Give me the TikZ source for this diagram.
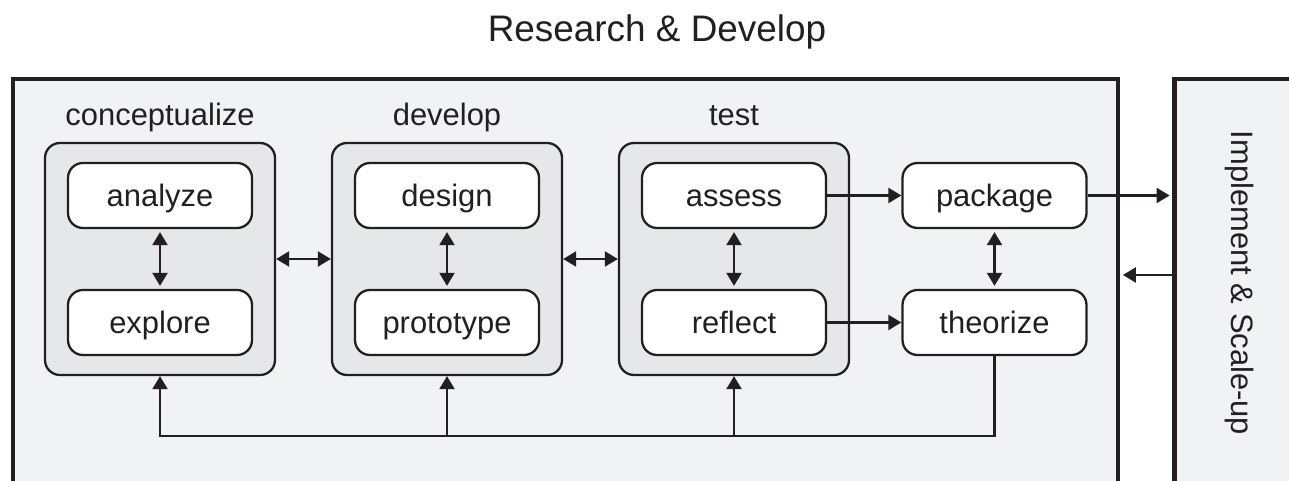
\documentclass[tikz,border=0pt]{standalone}
\usepackage{fontspec}
\setmainfont{Liberation Sans}
\usetikzlibrary{arrows.meta,positioning,calc}
\usepackage{xcolor}
\definecolor{panelgray}{HTML}{F1F2F4}
\definecolor{groupgray}{HTML}{E6E7E8}
\definecolor{ink}{HTML}{231F20}
\tikzset{
  panel/.style={draw=ink, line width=2.8pt, fill=panelgray, minimum height=8.64cm},
  groupbox/.style={draw=ink, rounded corners=3mm, line width=1.3pt, fill=groupgray, minimum width=4.6cm, minimum height=4.64cm},
  stepbox/.style={draw=ink, rounded corners=3mm, line width=1.3pt, fill=white, text=ink, minimum width=3.68cm, minimum height=1.3cm, text height=0.6cm, text depth=0.14cm, font=\fontsize{17.6}{20}\selectfont},
  grouplabel/.style={anchor=base, text=ink, font=\fontsize{17.6}{20}\selectfont},
  link/.style={draw=ink, line width=1.25pt},
  arrow/.style={link, -{Triangle[length=2.6mm, width=3mm]}},
  biarrow/.style={link, {Triangle[length=2.6mm, width=3mm]}-{Triangle[length=2.6mm, width=3mm]}}
}

\begin{document}
\begin{tikzpicture}
  \useasboundingbox (0,0) rectangle (25.78,9.62);
  \clip (0,0) rectangle (25.78,9.62);
  \node[panel, minimum width=22.1cm] (rnd) at (11.31,3.72) {};
  \node[panel, minimum width=3.4cm] (impl) at (25.19,3.72) {};
  \node[anchor=base, text=ink, font=\fontsize{21}{24}\selectfont] (title) at (13.14,8.78) {Research \& Develop};
  \node[rotate=-90, text=ink, font=\fontsize{17.6}{20}\selectfont] (impllabel) at (24.78,3.96) {Implement \& Scale-up};
  \node[groupbox] (concept) at (3.2,4.44) {};
  \node[groupbox] (develop) at (8.94,4.44) {};
  \node[groupbox] (test) at (14.68,4.44) {};
  \node[grouplabel] (conceptlabel) at (3.2,7.1) {conceptualize};
  \node[grouplabel] (developlabel) at (8.94,7.1) {develop};
  \node[grouplabel] (testlabel) at (14.68,7.1) {test};
  \node[stepbox] (analyze) at (3.2,5.71) {analyze};
  \node[stepbox] (explore) at (3.2,3.17) {explore};
  \node[stepbox] (design) at (8.94,5.71) {design};
  \node[stepbox] (prototype) at (8.94,3.17) {prototype};
  \node[stepbox] (assess) at (14.68,5.71) {assess};
  \node[stepbox] (reflect) at (14.68,3.17) {reflect};
  \node[stepbox] (package) at (19.89,5.71) {package};
  \node[stepbox] (theorize) at (19.89,3.17) {theorize};
  \coordinate (back) at (23.49,4.12);
  \coordinate (loop) at (0,0.9);
  \draw[biarrow, shorten <=0.6mm, shorten >=0.6mm] (analyze.south) -- (explore.north);
  \draw[biarrow, shorten <=0.6mm, shorten >=0.6mm] (design.south) -- (prototype.north);
  \draw[biarrow, shorten <=0.6mm, shorten >=0.6mm] (assess.south) -- (reflect.north);
  \draw[biarrow, shorten <=0.6mm, shorten >=0.6mm] (package.south) -- (theorize.north);
  \draw[biarrow] (concept.east) -- (develop.west);
  \draw[biarrow] (develop.east) -- (test.west);
  \draw[arrow] (assess.east) -- (package.west);
  \draw[arrow] (reflect.east) -- (theorize.west);
  \draw[arrow, shorten >=1.4pt] (package.east) -- (package.east -| impl.west);
  \draw[arrow, shorten >=1.4pt] (impl.west |- back) -- (rnd.east |- back);
  \draw[arrow] (theorize.south) |- (loop -| concept.south) -- (concept.south);
  \draw[arrow] (loop -| develop.south) -- (develop.south);
  \draw[arrow] (loop -| test.south) -- (test.south);
\end{tikzpicture}
\end{document}
